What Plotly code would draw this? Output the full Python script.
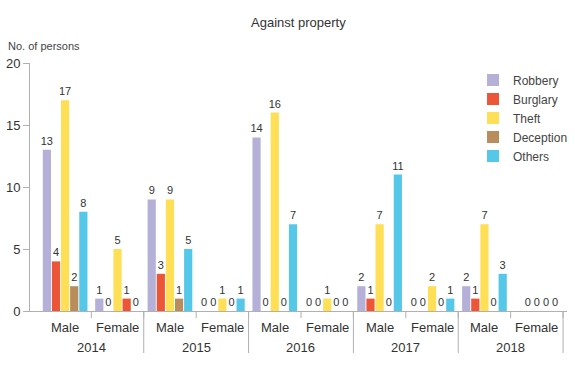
import plotly.graph_objects as go

years = ["2014", "2014", "2015", "2015", "2016", "2016", "2017", "2017", "2018", "2018"]
sexes = ["Male", "Female"] * 5
series = ["Robbery", "Burglary", "Theft", "Deception", "Others"]
robbery = [13, 1, 9, 0, 14, 0, 2, 0, 2, 0]
burglary = [4, 0, 3, 0, 0, 0, 1, 0, 1, 0]
theft = [17, 5, 9, 1, 16, 1, 7, 2, 7, 0]
deception = [2, 1, 1, 0, 0, 0, 0, 0, 0, 0]
others = [8, 0, 5, 1, 7, 0, 11, 1, 3, 0]
values = [robbery, burglary, theft, deception, others]
colors = ["#b4b0d8", "#ec5538", "#ffdf55", "#b98d5b", "#55c8ea"]
AXIS = "#b0b0b0"
PLOT_H = 248

fig = go.Figure()
for i, (name, vals, col) in enumerate(zip(series, values, colors)):
    mc = [col] * len(vals)
    if name == "Deception":
        mc[1] = colors[1]  # the reference draws this bar in red
    txt = [str(v) for v in vals]
    if name == "Robbery":
        txt[9] = ""
    fig.add_trace(go.Bar(
        x=[years, sexes], y=vals, name=name,
        marker=dict(color=mc, line=dict(width=0)),
        text=txt, textposition="outside", cliponaxis=False,
        constraintext="none",
        textfont=dict(size=11, color="#333"),
        legendgroup=name,
    ))

# separators: short ticks at every category boundary, long dividers between years
shapes = []
annotations = []
n = len(years)
for k in range(1, n + 1):
    xb = k - 0.5
    shapes.append(dict(type="line", xref="x", yref="paper", x0=xb, x1=xb,
                       y0=0, y1=-7 / PLOT_H, line=dict(color=AXIS, width=1)))
    if k == n or years[k] != years[k - 1]:
        shapes.append(dict(type="line", xref="x", yref="paper", x0=xb, x1=xb,
                           y0=0, y1=-42 / PLOT_H, line=dict(color=AXIS, width=1)))

# category labels (inner: sex, outer: year)
for k, s in enumerate(sexes):
    annotations.append(dict(text=s, x=k, y=-16 / PLOT_H, xref="x", yref="paper",
                            xanchor="center", yanchor="middle", showarrow=False,
                            font=dict(size=13, color="#333")))
seen = []
for k, yv in enumerate(years):
    if yv in seen:
        continue
    seen.append(yv)
    idx = [j for j, v in enumerate(years) if v == yv]
    annotations.append(dict(text=yv, x=sum(idx) / len(idx), y=-36 / PLOT_H,
                            xref="x", yref="paper", xanchor="center", yanchor="middle",
                            showarrow=False, font=dict(size=13, color="#333")))

annotations += [
    dict(text="Against property", x=0.5, y=1, xref="paper", yref="paper",
         xanchor="center", yanchor="bottom", yshift=31, showarrow=False,
         font=dict(size=13, color="#333")),
    dict(text="No. of persons", x=-0.044, y=1.07, xref="paper", yref="paper",
         xanchor="left", yanchor="middle",
         showarrow=False, font=dict(size=11, color="#444")),
]

fig.update_layout(
    width=575, height=370,
    margin=dict(l=30, r=8, t=63, b=59, autoexpand=False),
    paper_bgcolor="white", plot_bgcolor="white",
    font=dict(family="Liberation Sans, Arial, sans-serif", color="#333", size=12),
    barmode="group", bargap=0.13, bargroupgap=0.1,
    showlegend=True,
    legend=dict(x=0.825, y=0.99, xanchor="left", yanchor="top",
                font=dict(size=12, color="#444"), tracegroupgap=0,
                bgcolor="rgba(0,0,0,0)"),
    xaxis=dict(type="multicategory", showline=True, linecolor=AXIS, linewidth=1,
               ticks="", showticklabels=False,
               automargin=False, showdividers=False, range=[-0.67, 9.575]),
    yaxis=dict(range=[0, 20], dtick=5, showline=True, linecolor=AXIS, linewidth=1,
               ticks="outside", ticklen=6, tickcolor=AXIS, showgrid=False,
               automargin=False,
               zeroline=False, tickfont=dict(size=13, color="#333")),
    shapes=shapes,
    annotations=annotations,
)

fig.write_html("out.html", config={"displayModeBar": False},
               post_script="document.body.style.margin='0px';")
